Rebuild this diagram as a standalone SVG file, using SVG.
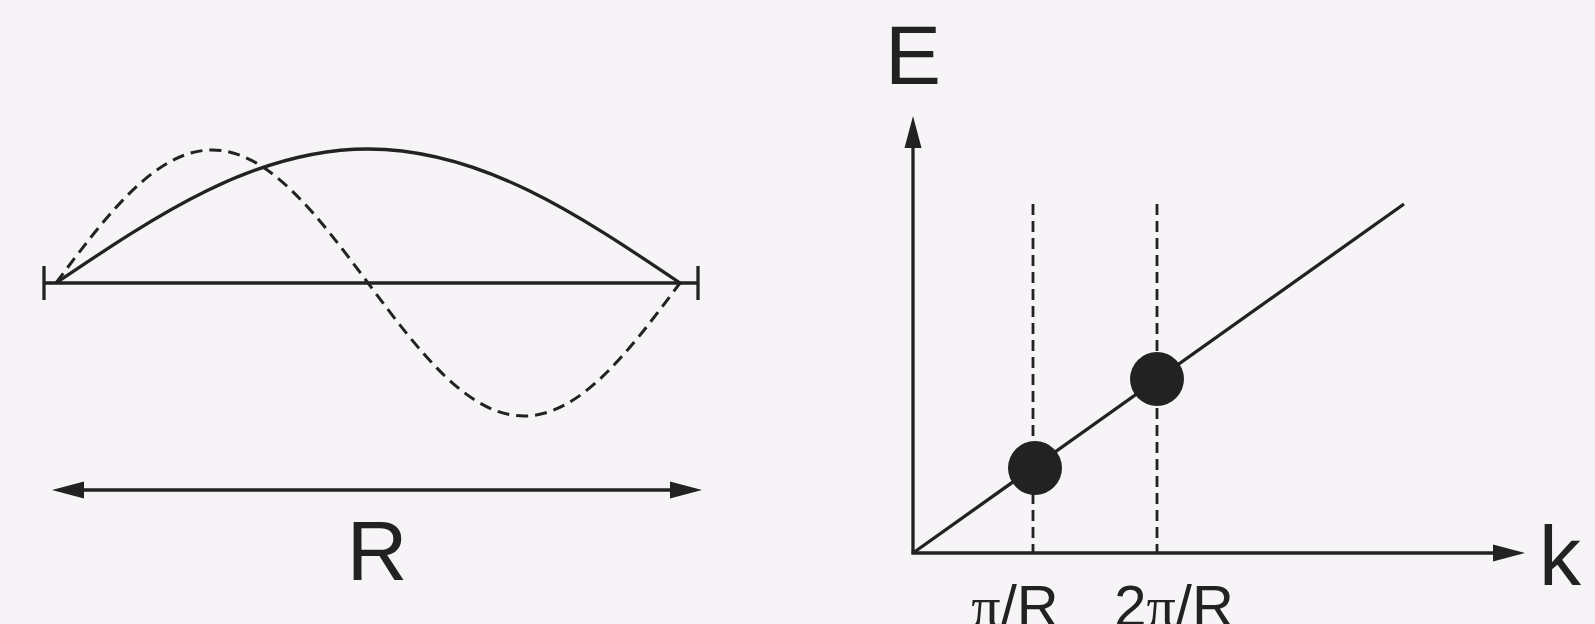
<svg xmlns="http://www.w3.org/2000/svg" width="1595" height="624" viewBox="0 0 1595 624">
<style>
.ln{stroke:#222;stroke-width:3.3;fill:none;stroke-linecap:butt}
.dash{stroke:#222;stroke-width:3;fill:none;stroke-dasharray:12 7}
.vd{stroke:#222;stroke-width:2.8;fill:none;stroke-dasharray:11 6}
.ah{fill:#222;stroke:none}
.lbl{font-family:"Liberation Sans",Arial,sans-serif;fill:#222}
.pi{font-family:"Liberation Serif","Times New Roman",serif}
</style>
<rect x="0" y="0" width="1595" height="624" fill="#f6f4f6"/>
<g id="string">
<line class="ln" x1="44" y1="283" x2="698" y2="283"/>
<line class="ln" x1="44" y1="266" x2="44" y2="300"/>
<line class="ln" x1="698" y1="266" x2="698" y2="300"/>
<path class="ln" d="M56,283 C157.7,214.4 255.1,149 368,149 C480.9,149 578.3,214.4 680,283"/>
<path class="dash" d="M56,283 C106.9,214.9 155.5,150 212,150 C268.5,150 317.1,214.9 368,283 C418.9,351.1 467.5,416 524,416 C580.5,416 629.1,351.1 680,283"/>
</g>
<g id="length-arrow">
<line class="ln" x1="75" y1="490" x2="680" y2="490"/>
<polygon class="ah" points="52,490 84,481.5 84,498.5"/>
<polygon class="ah" points="702,490 670,481.5 670,498.5"/>
<text class="lbl" x="377" y="580" font-size="84" text-anchor="middle">R</text>
</g>
<g id="axes">
<line class="ln" x1="913" y1="554" x2="913" y2="140"/>
<polygon class="ah" points="913,116 904.5,148 921.5,148"/>
<line class="ln" x1="911.5" y1="553" x2="1500" y2="553"/>
<polygon class="ah" points="1525,553 1493,544.5 1493,561.5"/>
<text class="lbl" x="885" y="84" font-size="84">E</text>
<text class="lbl" x="1539" y="585" font-size="84">k</text>
</g>
<g id="dispersion">
<line class="ln" stroke-width="2.8" x1="913" y1="553" x2="1404" y2="204"/>
<line class="vd" x1="1033" y1="204" x2="1033" y2="553"/>
<line class="vd" x1="1157" y1="204" x2="1157" y2="553"/>
</g>
<g id="state1"><circle cx="1035" cy="468" r="27" fill="#222"/></g>
<g id="state2"><circle cx="1157" cy="379" r="27" fill="#222"/></g>
<g id="labels">
<text class="lbl" x="1015" y="626" font-size="58" text-anchor="middle"><tspan class="pi">π</tspan>/R</text>
<text class="lbl" x="1174" y="626" font-size="58" text-anchor="middle">2<tspan class="pi">π</tspan>/R</text>
</g>
</svg>
